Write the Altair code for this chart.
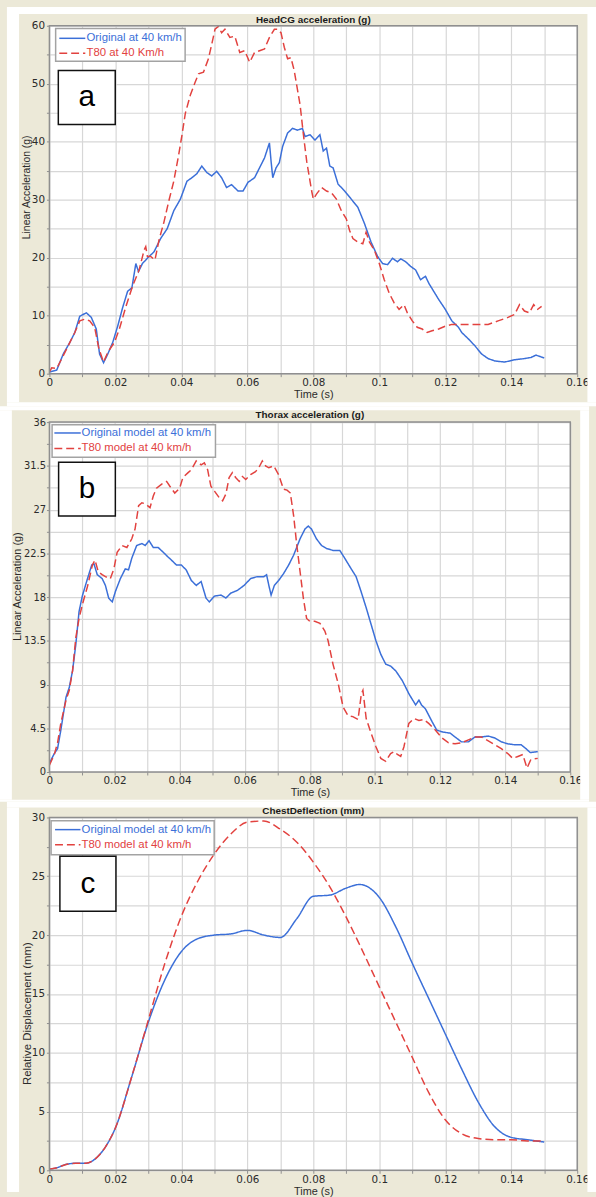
import altair as alt
import pandas as pd

# ---------------- data ----------------
# Panel a : HeadCG acceleration (g)
A_T_ORIG = [0, .0022, .0042, .0062, .0077, .0092, .0102, .0112, .0127, .0142, .0152, .0164, .0177, .0192,
            .0207, .0222, .0237, .025, .0262, .027, .0282, .0302, .0317, .0337, .0357, .0377, .0397, .0417,
            .0432, .0447, .0462, .0477, .0492, .0507, .0522, .0537, .0552, .0572, .0587, .0602, .0622, .0637,
            .0652, .0667, .0672, .0677, .0687, .0697, .0707, .0722, .0737, .0752, .0767, .0775, .079, .0805,
            .082, .083, .084, .085, .086, .0875, .0895, .0915, .0935, .0955, .0975, .0995, .101, .1025, .104,
            .1055, .1065, .108, .1095, .111, .1125, .114, .115, .1165, .118, .12, .122, .124, .125, .127, .129,
            .131, .133, .135, .138, .141, .144, .146, .1475, .15]
A_V_ORIG = [0.3, 0.6, 3.4, 5.4, 7.1, 9.9, 10.2, 10.5, 9.7, 7.7, 3.4, 1.9, 3.4, 5.4,
            8.2, 11.4, 14.2, 14.8, 19.0, 17.6, 19.0, 20.2, 21.0, 23.3, 25.0, 28.1, 30.1, 33.2,
            33.8, 34.5, 35.8, 34.7, 34.1, 34.9, 33.8, 32.1, 32.6, 31.5, 31.5, 33.0, 33.8, 35.5,
            37.2, 39.8, 36.6, 33.8, 35.5, 36.4, 39.2, 41.5, 42.3, 42.0, 42.3, 40.9, 41.2, 40.3,
            41.2, 38.4, 38.9, 35.8, 35.5, 32.7, 31.5, 30.1, 28.7, 25.9, 22.7, 20.2, 19.0, 18.8, 19.9,
            19.3, 19.8, 19.3, 18.5, 17.9, 16.2, 16.8, 15.6, 14.2, 12.8, 11.1, 9.1, 8.0, 7.1, 6.0, 4.8,
            3.4, 2.6, 2.2, 2.0, 2.4, 2.6, 2.8, 3.2, 2.7]
A_T_T80 = [0, .0007, .0022, .0042, .0062, .0077, .0092, .0107, .0122, .0137, .015, .0164, .0177, .0197,
           .0212, .0232, .0252, .0272, .0287, .0292, .0297, .0307, .032, .0332, .0347, .0362, .0377, .0392,
           .0402, .0412, .0427, .0442, .0452, .0467, .0482, .0492, .0502, .0512, .0522, .0532, .0547, .0562,
           .0577, .0592, .0607, .0622, .0637, .0652, .0667, .0682, .0692, .0702, .0712, .0722, .0732, .0742,
           .076, .077, .078, .0795, .080, .081, .0825, .084, .0855, .087, .0885, .090, .091, .092, .0935,
           .095, .096, .097, .0985, .100, .1015, .103, .1045, .106, .1075, .1085, .110, .1115, .113, .1145,
           .116, .118, .120, .122, .127, .133, .136, .139, .141, .1425, .144, .1455, .1468, .148, .1492]
A_V_T80 = [0.3, 1.0, 0.9, 3.1, 5.4, 7.1, 9.1, 9.4, 9.1, 8.0, 4.3, 2.0, 3.7, 5.4,
           7.7, 11.6, 15.1, 17.9, 21.3, 21.9, 20.2, 20.2, 19.6, 23.0, 26.1, 29.8, 33.2, 37.8,
           41.2, 44.9, 48.0, 50.3, 51.7, 52.0, 54.3, 56.8, 59.4, 59.9, 58.8, 59.4, 58.0, 58.2,
           55.4, 55.7, 53.7, 55.4, 55.7, 56.0, 58.0, 59.4, 59.4, 58.8, 56.3, 54.3, 54.5, 52.3,
           46.3, 41.2, 36.6, 31.5, 30.1, 31.0, 32.1, 31.5, 31.2, 30.1, 28.1, 26.7, 24.7, 23.3, 22.7,
           22.4, 24.4, 22.7, 21.3, 19.0, 16.2, 13.9, 12.2, 11.1, 11.9, 10.5, 9.1, 8.0, 7.7, 7.1,
           7.4, 7.7, 8.2, 8.5, 8.5, 8.5, 9.1, 9.7, 10.2, 11.9, 10.8, 10.5, 11.9, 11.1, 11.6]

# Panel b : Thorax acceleration (g)
B_T_ORIG = [0, .0015, .0025, .0035, .0051, .0061, .0071, .0081, .0091, .0101, .0117, .013, .0137, .0147,
            .0162, .0172, .0182, .0193, .0203, .0218, .0233, .0243, .0253, .0268, .0284, .0294, .0306, .0319,
            .0334, .035, .0365, .0375, .039, .0405, .042, .0436, .0451, .0466, .0481, .0491, .0507, .0527,
            .0542, .0557, .0578, .0598, .0618, .0638, .0659, .0667, .0674, .0681, .0691, .0704, .0719, .0735,
            .075, .077, .0785, .0795, .0805, .082, .0836, .0851, .0871, .0892, .0907, .0927, .0942, .0957,
            .0973, .0988, .1003, .1018, .1033, .1048, .1064, .1084, .1105, .1125, .1135, .1143, .1155, .1175,
            .119, .121, .1231, .1246, .1266, .1287, .1307, .1327, .1348, .1368, .1388, .1408, .1429, .1449,
            .1464, .1477, .15]
B_V_ORIG = [0.9, 1.9, 2.4, 4.3, 7.7, 8.7, 10.4, 13.1, 16.5, 18.1, 19.9, 21.3, 21.4, 20.3,
            19.9, 19.2, 17.9, 17.5, 18.6, 19.9, 20.9, 20.8, 22.0, 23.3, 23.5, 23.3, 23.8, 23.1,
            23.1, 22.6, 22.1, 21.8, 21.3, 21.3, 20.8, 19.7, 19.2, 19.6, 17.9, 17.5, 18.1, 18.2,
            17.9, 18.4, 18.7, 19.2, 19.9, 20.1, 20.1, 20.3, 19.2, 18.2, 19.2, 19.7, 20.4, 21.3,
            22.3, 24.0, 25.0, 25.3, 25.0, 24.0, 23.3, 23.0, 22.8, 22.8, 22.0, 20.9, 20.1, 18.6,
            16.9, 15.2, 13.5, 12.1, 11.1, 10.9, 10.4, 9.4, 8.0, 6.9, 7.4, 6.9, 6.5, 5.2,
            4.3, 4.1, 4.0, 3.6, 3.1, 3.1, 3.6, 3.6, 3.7, 3.5, 3.1, 2.9, 2.8, 2.8,
            2.4, 2.0, 2.1]
B_T_T80 = [0, .0015, .0025, .0035, .0051, .0061, .0071, .0081, .0091, .0101, .0117, .0132, .014, .015,
           .0162, .0172, .0187, .0198, .0208, .0223, .0238, .0253, .0263, .0274, .0284, .0294, .0309, .0319,
           .0329, .0344, .036, .037, .0385, .04, .041, .0426, .0436, .0451, .0466, .0476, .0486, .0496,
           .0507, .0522, .0532, .0542, .0552, .0562, .0572, .0583, .0593, .0603, .0618, .0633, .0643, .0654,
           .0664, .0674, .0689, .0704, .0719, .073, .074, .075, .076, .077, .078, .079, .080, .0815, .0831,
           .0846, .0856, .0871, .0887, .0902, .0917, .0932, .0948, .0958, .0963, .0973, .0988, .1003, .1018,
           .1033, .1048, .1059, .1069, .1079, .1089, .1104, .112, .1135, .115, .1165, .1186, .1206, .1226,
           .1246, .1266, .1287, .1307, .1327, .1348, .1368, .1388, .1408, .1423, .1439, .1454, .1467, .1479, .15]
B_V_T80 = [0.7, 1.8, 3.0, 5.0, 7.4, 8.4, 10.4, 13.8, 15.8, 17.2, 19.1, 21.3, 21.8, 20.6,
           20.3, 20.1, 19.9, 20.9, 22.6, 23.3, 23.1, 24.0, 25.0, 27.4, 27.7, 27.6, 27.2, 28.4,
           29.2, 29.6, 29.9, 29.4, 28.7, 29.2, 30.3, 30.8, 31.1, 32.0, 31.6, 31.8, 31.1, 29.4,
           28.9, 28.2, 27.9, 28.6, 30.3, 30.8, 30.3, 29.9, 30.4, 30.1, 30.6, 30.9, 31.3, 32.0,
           31.5, 31.3, 31.5, 30.6, 29.1, 29.0, 28.7, 26.4, 23.3, 20.6, 17.9, 15.8, 15.5, 15.5, 15.3,
           14.5, 13.5, 11.1, 9.1, 6.7, 5.8, 5.7, 5.4, 8.0, 8.4, 5.5, 4.0, 2.6, 1.4,
           1.1, 1.9, 2.1, 1.8, 1.6, 2.6, 5.0, 5.5, 5.3, 5.4, 5.0, 4.3, 3.5, 3.0,
           2.9, 3.0, 3.3, 3.6, 3.6, 3.2, 2.8, 2.4, 1.9, 1.4, 1.6, 1.8, 0.4, 1.3, 1.4]

# Panel c : ChestDeflection (mm)
C_T = [0, 0.002, 0.005, 0.008, 0.011, 0.014, 0.017, 0.02, 0.025, 0.03, 0.035, 0.04, 0.045, 0.05, 0.055,
       0.06, 0.065, 0.07, 0.075, 0.08, 0.085, 0.09, 0.094, 0.1, 0.105, 0.11, 0.115, 0.12, 0.125, 0.13,
       0.135, 0.14, 0.145, 0.15]
C_V_ORIG = [0.1, 0.2, 0.5, 0.6, 0.6, 1.0, 2.0, 3.6, 8.0, 12.6, 16.2, 18.6, 19.7, 20.0, 20.1,
            20.4, 20.0, 19.8, 21.4, 23.3, 23.4, 24.0, 24.3, 23.2, 20.7, 17.6, 14.6, 11.6, 8.6, 5.8,
            3.7, 2.8, 2.6, 2.4]
C_V_T80 = [0.1, 0.2, 0.5, 0.6, 0.6, 1.0, 2.0, 3.6, 8.0, 12.8, 17.6, 21.6, 24.6, 26.9, 28.6,
           29.6, 29.7, 29.0, 27.9, 26.2, 24.1, 21.5, 19.2, 15.6, 12.6, 9.6, 6.6, 4.3, 3.1, 2.7,
           2.6, 2.6, 2.5, 2.5]

# axis tick / grid values (labels shown on every second one)
X_VALUES = [0, 0.01, 0.02, 0.03, 0.04, 0.05, 0.06, 0.07, 0.08, 0.09, 0.1, 0.11, 0.12, 0.13, 0.14, 0.15, 0.16]
A_Y_VALUES = [0, 5, 10, 15, 20, 25, 30, 35, 40, 45, 50, 55, 60]
B_Y_VALUES = [0, 2.25, 4.5, 6.75, 9, 11.25, 13.5, 15.75, 18, 20.25, 22.5, 24.75, 27, 29.25, 31.5, 33.75, 36]
C_Y_VALUES = [0, 2.5, 5, 7.5, 10, 12.5, 15, 17.5, 20, 22.5, 25, 27.5, 30]

# ---------------- styling ----------------
BEIGE = "#ECE9D8"
BLUE = "#3b6fd8"
RED = "#e2423f"
GRID = "#d7d7d7"
FRAME = "#8f8f8f"
TXT = "#2b2b2b"
FONT = "Liberation Sans"
TICKFONT = "DejaVu Sans"


def panel(c):
    W, H = c["W"], c["H"]
    xs = alt.Scale(domain=[0, 0.16], nice=False, zero=False)
    ys = alt.Scale(domain=[0, c["ymax"]], nice=False, zero=False)
    one = pd.DataFrame({"k": [0]})
    n1, n2 = c["names"]
    L = []

    df = pd.DataFrame({
        "t": list(c["t1"]) + list(c["t2"]),
        "v": list(c["v1"]) + list(c["v2"]),
        "s": [n1] * len(c["t1"]) + [n2] * len(c["t2"]),
    })
    xaxis = alt.Axis(values=X_VALUES,
                     labelExpr="round(datum.value * 100) % 2 == 0 ? format(datum.value, '~g') : ''",
                     grid=True, gridColor=GRID, gridWidth=1.2, domain=False, ticks=True, tickSize=3,
                     tickColor=FRAME, labelFont=TICKFONT, labelFontSize=10.5, labelColor=TXT, labelPadding=1,
                     labelFlush=False, labelOverlap=False, title="Time (s)", titleFont=FONT,
                     titleFontSize=11, titleFontWeight="normal", titleColor=TXT, titleX=W / 2,
                     titleY=21, titleBaseline="middle", titleAlign="center")
    yaxis = alt.Axis(values=c["yvalues"], labelExpr=c["ylabexpr"],
                     grid=True, gridColor=GRID, gridWidth=1.2, domain=False, ticks=True, tickSize=3,
                     tickColor=FRAME, labelFont=TICKFONT, labelFontSize=c["ylsize"], labelColor=TXT,
                     labelPadding=c["ylpad"],
                     labelFlush=False, labelOverlap=False, title=c["ytitle"], titleFont=FONT,
                     titleFontSize=c["ytsize"], titleFontWeight="normal", titleColor=TXT,
                     titleX=c["ytx"], titleY=c["yty"], titleAngle=270, titleBaseline="middle",
                     titleAlign="center")
    L.append(alt.Chart(df).mark_line(strokeWidth=1.5, clip=True, interpolate=c["interp"]).encode(
        x=alt.X("t:Q", scale=xs, axis=xaxis),
        y=alt.Y("v:Q", scale=ys, axis=yaxis),
        color=alt.Color("s:N", scale=alt.Scale(domain=[n1, n2], range=[BLUE, RED]), legend=None),
        strokeDash=alt.StrokeDash("s:N", scale=alt.Scale(domain=[n1, n2], range=[[1, 0], [8, 4]]),
                                  legend=None),
    ))
    # plot frame
    L.append(alt.Chart(one).mark_rect(fillOpacity=0, stroke=FRAME, strokeWidth=1.5).encode(
        x=alt.value(0), x2=alt.value(W), y=alt.value(0), y2=alt.value(H)))
    # legend box
    lx0, lx1, ly0, ly1 = c["lbox"]
    r1, r2 = c["rows"]
    s0, s1 = c["sample"]
    L.append(alt.Chart(one).mark_rect(fill="white", stroke="#a3a3a3", strokeWidth=1.5).encode(
        x=alt.value(lx0), x2=alt.value(lx1), y=alt.value(ly0), y2=alt.value(ly1)))
    L.append(alt.Chart(one).mark_rule(color=BLUE, strokeWidth=1.5).encode(
        x=alt.value(s0), x2=alt.value(s1), y=alt.value(r1)))
    L.append(alt.Chart(one).mark_rule(color=RED, strokeWidth=1.5, strokeDash=[8, 4]).encode(
        x=alt.value(s0), x2=alt.value(s1), y=alt.value(r2)))
    L.append(alt.Chart(one).mark_text(text=c["labels"][0], align="left", baseline="middle", font=FONT,
                                      fontSize=11.5, color=BLUE).encode(
        x=alt.value(c["tx"]), y=alt.value(r1)))
    L.append(alt.Chart(one).mark_text(text=c["labels"][1], align="left", baseline="middle", font=FONT,
                                      fontSize=11.5, color=RED).encode(
        x=alt.value(c["tx"]), y=alt.value(r2)))
    # letter box
    kx0, kx1, ky0, ky1 = c["kbox"]
    L.append(alt.Chart(one).mark_rect(fill="white", stroke="#111111", strokeWidth=1.5).encode(
        x=alt.value(kx0), x2=alt.value(kx1), y=alt.value(ky0), y2=alt.value(ky1)))
    L.append(alt.Chart(one).mark_text(text=c["letter"], align="center", baseline="middle", font=FONT,
                                      fontSize=30, color="#000000").encode(
        x=alt.value((kx0 + kx1) / 2), y=alt.value((ky0 + ky1) / 2)))
    # panel title
    L.append(alt.Chart(one).mark_text(text=c["title"], align="center", baseline="middle", font=FONT,
                                      fontSize=10, fontWeight="bold", color="#1a1a1a").encode(
        x=alt.value(W / 2), y=alt.value(c["ty"])))
    # white page strips around the beige panel (outside the axes)
    oL, oR, oT, oB = c["outer"]       # outer page edges relative to plot
    bL, bR, bT, bB = c["beige"]       # beige panel edges relative to plot
    strips = [(oL, W + oR, oT, bT), (oL, W + oR, H + bB, H + oB),
              (oL, bL, bT, H + bB), (W + bR, W + oR, bT, H + bB)]
    for (x0, x1, y0, y1) in strips:
        L.append(alt.Chart(one).mark_rect(color="white").encode(
            x=alt.value(x0), x2=alt.value(x1), y=alt.value(y0), y2=alt.value(y1)))
    return alt.layer(*L).properties(width=W, height=H)


pa = panel(dict(W=534, H=352, ymax=60, yvalues=A_Y_VALUES, ylsize=10.5, ylpad=2,
                ylabexpr="round(datum.value / 5) % 2 == 0 ? format(datum.value, '~g') : ''",
                t1=A_T_ORIG, v1=A_V_ORIG, t2=A_T_T80, v2=A_V_T80, names=("orig", "t80"),
                interp="linear", ytitle="Linear Acceleration (g)", ytsize=10.5, ytx=-22.7, yty=163,
                lbox=(6.3, 137.3, 2.7, 36), rows=(12.7, 27.7), sample=(10, 36.3), tx=37.5,
                labels=("Original at 40 km/h", "T80 at 40 Km/h"),
                kbox=(9, 66.6, 45.3, 100), letter="a", title="HeadCG acceleration (g)", ty=-6,
                outer=(-43, 19, -19, 33), beige=(-30.7, 10.3, -12, 29)))

pb = panel(dict(W=527, H=354, ymax=36, yvalues=B_Y_VALUES, ylsize=10, ylpad=1,
                ylabexpr="round(datum.value * 4 / 9) % 2 == 0 ? format(datum.value, '~g') : ''",
                t1=B_T_ORIG, v1=B_V_ORIG, t2=B_T_T80, v2=B_V_T80, names=("orig", "t80"),
                interp="linear", ytitle="Linear Acceleration (g)", ytsize=11, ytx=-32, yty=166,
                lbox=(2.7, 168, 2.6, 35.6), rows=(11, 26.7), sample=(5, 31.7), tx=32.5,
                labels=("Original model at 40 km/h", "T80 model at 40 km/h"),
                kbox=(9.3, 66.7, 40.7, 95), letter="b", title="Thorax acceleration (g)", ty=-7,
                outer=(-50, 19, -16, 30), beige=(-38, 10, -12, 28)))

pc = panel(dict(W=534, H=357, ymax=30, yvalues=C_Y_VALUES, ylsize=10.5, ylpad=2,
                ylabexpr="round(datum.value / 2.5) % 2 == 0 ? format(datum.value, '~g') : ''",
                t1=C_T, v1=C_V_ORIG, t2=C_T, v2=C_V_T80, names=("orig", "t80"),
                interp="monotone", ytitle="Relative Displacement (mm)", ytsize=11.5, ytx=-22.5, yty=198,
                lbox=(1.7, 166.7, 3.3, 37.7), rows=(12.3, 27.7), sample=(5.7, 31.4), tx=32.5,
                labels=("Original model at 40 km/h", "T80 model at 40 km/h"),
                kbox=(10.6, 67.3, 39.3, 95), letter="c", title="ChestDeflection (mm)", ty=-6,
                outer=(-43, 19, -16, 22), beige=(-30.7, 10.3, -10, 22)))

chart = alt.vconcat(pa, pb, pc, spacing=0).properties(
    padding=0,
    background=BEIGE,
).configure_view(stroke=None, fill="white")

chart.save("out.html", embed_options={"renderer": "svg", "actions": False})
